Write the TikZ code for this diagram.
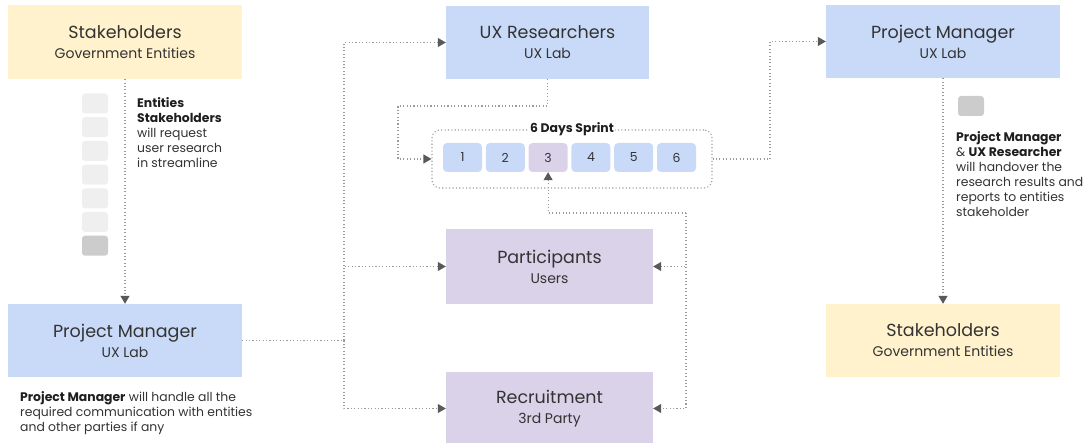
\documentclass[tikz,border=0pt]{standalone}
\usepackage{fontspec}
\setmainfont{Poppins}
\usetikzlibrary{arrows.meta,calc}

\definecolor{boxblue}{HTML}{C9DAF8}
\definecolor{boxyellow}{HTML}{FFF2CC}
\definecolor{boxpurple}{HTML}{D9D2E9}
\definecolor{chipgrey}{HTML}{EFEFEF}
\definecolor{chipdark}{HTML}{CCCCCC}
\definecolor{linegrey}{HTML}{9A9A9A}
\definecolor{tipgrey}{HTML}{595959}
\definecolor{ink}{HTML}{333333}
\definecolor{inkdark}{HTML}{1E1E1E}

\newcommand\boxtitle{\fontsize{17.5}{21}\selectfont}
\newcommand\boxsub{\fontsize{14}{16}\selectfont}
\newcommand\notefont{\fontsize{12.4}{15}\selectfont}
\newcommand\keyterm[1]{{\bfseries\color{inkdark}#1}}
% two-line caption of a role box: title over a smaller subtitle
\newcommand\roletext[2]{{\boxtitle #1}\\[4pt]{\boxsub #2}}

\tikzset{
  role/.style={draw=none, minimum width=#1, align=center, text=ink, inner sep=0pt, font=\boxsub},
  bluebox/.style={role=#1, fill=boxblue},
  yellowbox/.style={role=#1, fill=boxyellow},
  purplebox/.style={role=#1, fill=boxpurple},
  conn/.style={draw=linegrey, line width=1.1pt, dash pattern=on 1.1pt off 2.3pt},
  arr/.style={-{Triangle[width=9pt,length=8pt,color=tipgrey]}},
  daybox/.style={fill=#1, rounded corners=4pt, minimum width=39pt, minimum height=29pt,
    inner sep=0pt, text=ink, font=\fontsize{12.4}{14}\selectfont},
  chip/.style={fill=#1, rounded corners=3pt, minimum width=26pt, minimum height=20pt, inner sep=0pt},
  note/.style={anchor=north west, align=left, text=ink, font=\notefont, inner sep=0pt},
}

\begin{document}
\begin{tikzpicture}[x=1pt, y=-1pt]
\useasboundingbox (0,0) rectangle (1089,443);

% role boxes
\node[yellowbox=234pt, minimum height=74pt] (stakeA) at (125,42)
  {\roletext{Stakeholders}{Government Entities}};
\node[bluebox=203pt, minimum height=73pt] (uxr) at (547.5,42.5)
  {\roletext{UX Researchers}{UX Lab}};
\node[bluebox=234pt, minimum height=73pt] (pmB) at (943,41.5)
  {\roletext{Project Manager}{UX Lab}};
\node[bluebox=234pt, minimum height=73pt] (pmA) at (125,340.5)
  {\roletext{Project Manager}{UX Lab}};
\node[purplebox=207pt, minimum height=75pt] (part) at (549.5,266.5)
  {\roletext{Participants}{Users}};
\node[purplebox=207pt, minimum height=73pt] (recr) at (549.5,408.5)
  {\roletext{Recruitment}{3rd Party}};
\node[yellowbox=234pt, minimum height=73pt] (stakeB) at (943,340.5)
  {\roletext{Stakeholders}{Government Entities}};

% sprint frame and days
\node[conn, rounded corners=8pt, minimum width=280pt, minimum height=58pt] (sprint) at (572,159) {};
\node[fill=white, inner xsep=1.5pt, inner ysep=0pt, text=inkdark,
      font=\bfseries\fontsize{12.4}{14}\selectfont] (sprintlbl) at (sprint.north) {6 Days Sprint};
\foreach \i/\c in {1/boxblue,2/boxblue,3/boxpurple,4/boxblue,5/boxblue,6/boxblue}
  \node[daybox=\c] (day\i) at ({462.5+42.8*(\i-1)},157.5) {\i};

% request queue chips
\foreach \i in {1,...,6}
  \node[chip=chipgrey] (q\i) at (95,{103.5+23.7*(\i-1)}) {};
\node[chip=chipdark] (q7) at (95,245.7) {};
\node[chip=chipdark] (handover) at (971,106) {};

% notes
\node[note] (noteA) at (137,97.5)
  {\keyterm{Entities}\\\keyterm{Stakeholders}\\will request\\user research\\in streamline};
\node[note] (noteB) at (956,131.5)
  {\keyterm{Project Manager}\\\& \keyterm{UX Researcher}\\will handover the\\research results and\\reports to entities\\stakeholder};
\node[note] (noteC) at (20,391)
  {\keyterm{Project Manager} will handle all the\\required communication with entities\\and other parties if any};

% junction points
\coordinate (hubL) at (344,340.5);
\coordinate (bendU) at (398,106);
\coordinate (bendR) at (770,159);
\coordinate (hubR) at (686,213);

% connectors
\draw[conn,arr] (stakeA.south) -- (pmA.north);
\draw[conn] (pmA.east) -- (hubL);
\draw[conn,arr] (hubL) |- (uxr.west);
\draw[conn,arr] (hubL) |- (part.west);
\draw[conn,arr] (hubL) |- (recr.west);
\draw[conn,arr] (uxr.south) |- (bendU) |- (sprint.west);
\draw[conn,arr] (sprint.east) -- (bendR) |- (pmB.west);
\draw[conn,arr] (pmB.south) -- (stakeB.north);
\draw[conn,arr] (hubR) -- (hubR -| day3.south) -- (day3.south);
\draw[conn,arr] (hubR) |- (part.east);
\draw[conn,arr] (hubR) |- (recr.east);
\end{tikzpicture}
\end{document}
